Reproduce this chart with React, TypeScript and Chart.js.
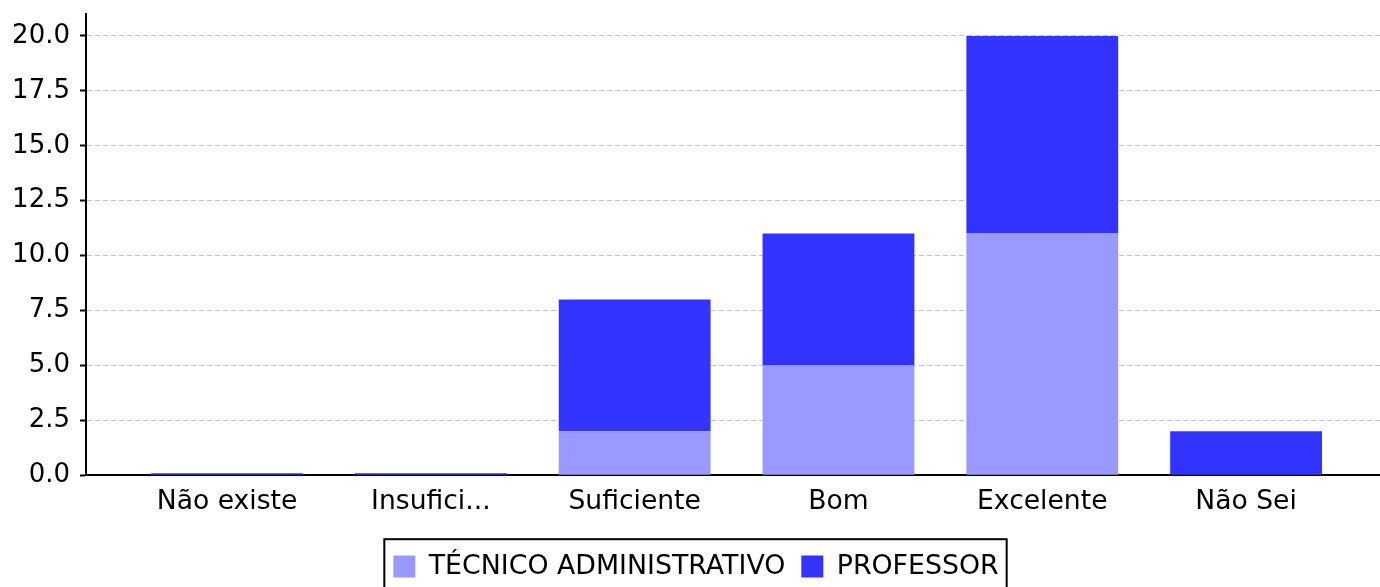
import React, { useEffect, useRef } from 'react';
import { Chart, registerables } from 'chart.js';

Chart.register(...registerables);

const categories = ['Não existe', 'Insufici...', 'Suficiente', 'Bom', 'Excelente', 'Não Sei'];
const tecnicoValues = [0, 0, 2, 5, 11, 0];
const professorValues = [0, 0, 6, 6, 9, 2];
const seriesNames = ['TÉCNICO ADMINISTRATIVO', 'PROFESSOR'];
const seriesColors = ['#9999ff', '#3333ff'];

const FONT = 'DejaVu Sans';
const FS_Y = 26;
const FS_X = 26.6;
const FS_L = 26.8;

const legendBorder = {
  id: 'legendBorder',
  afterDraw(chart: any) {
    const lg = chart.legend;
    if (!lg || !lg.legendHitBoxes || !lg.legendHitBoxes.length) return;
    const hb = lg.legendHitBoxes;
    const left = hb[0].left - 9;
    const last = hb[hb.length - 1];
    const right = last.left + last.width + 8;
    const top = hb[0].top - 14;
    const bottom = hb[0].top + hb[0].height + 24;
    const ctx = chart.ctx;
    ctx.save();
    ctx.strokeStyle = '#000';
    ctx.lineWidth = 2;
    ctx.strokeRect(left, top, right - left, bottom - top);
    ctx.restore();
  },
};

export default function App() {
  const ref = useRef<HTMLCanvasElement>(null);
  useEffect(() => {
    document.body.style.margin = '0';
    const ctx = ref.current!;
    const mk = (vals: number[]) => vals.map((v, i) => ({ x: i, y: v }));
    const chart = new Chart(ctx, {
      type: 'bar',
      data: {
        datasets: [
          {
            label: seriesNames[0],
            data: mk(tecnicoValues),
            backgroundColor: seriesColors[0],
            categoryPercentage: 1,
            barPercentage: 0.745,
          },
          {
            label: seriesNames[1],
            data: mk(professorValues),
            backgroundColor: seriesColors[1],
            categoryPercentage: 1,
            barPercentage: 0.745,
            minBarLength: 2,
          },
        ] as any,
      },
      options: {
        animation: false,
        responsive: false,
        maintainAspectRatio: false,
        layout: { autoPadding: false, padding: { top: 14, left: 12, right: 0, bottom: -3 } },
        plugins: {
          tooltip: { enabled: false },
          legend: {
            position: 'bottom',
            labels: {
              color: '#000',
              font: { family: FONT, size: FS_L },
              boxWidth: 22,
              boxHeight: 22,
              padding: 16,
            },
          },
        },
        scales: {
          x: {
            type: 'linear',
            offset: false,
            stacked: true,
            min: -0.692,
            max: 5.657,
            grid: { display: false, drawTicks: false, offset: false },
            border: { display: true, color: '#000', width: 2 },
            ticks: {
              stepSize: 1,
              includeBounds: false,
              autoSkip: false,
              maxRotation: 0,
              color: '#000',
              padding: 11,
              font: { family: FONT, size: FS_X },
              callback: (v: any) => (Number.isInteger(v) && categories[v] !== undefined ? categories[v] : ''),
            },
            afterFit: (s: any) => {
              s.height = 62;
              s.paddingLeft = 0;
              s.paddingRight = 0;
            },
          },
          y: {
            type: 'linear',
            stacked: true,
            min: 0,
            max: 21,
            grid: {
              color: '#c4c4c4',
              lineWidth: 1,
              tickLength: 6,
              tickColor: '#000',
              tickWidth: 2,
              tickBorderDash: [],
            },
            border: { display: true, color: '#000', width: 2, dash: [5, 3] },
            ticks: {
              stepSize: 2.5,
              includeBounds: false,
              color: '#000',
              padding: 10,
              font: { family: FONT, size: FS_Y },
              callback: (v: any) => Number(v).toFixed(1),
            },
            afterFit: (s: any) => {
              s.width = 74;
              s.paddingTop = 0;
              s.paddingBottom = 0;
            },
          },
        },
      } as any,
      plugins: [legendBorder],
    });
    return () => chart.destroy();
  }, []);
  return (
    <div style={{ position: 'absolute', left: 0, top: 0, width: 1380, height: 587 }}>
      <canvas ref={ref} width={1380} height={587} style={{ width: 1380, height: 587 }} />
    </div>
  );
}
